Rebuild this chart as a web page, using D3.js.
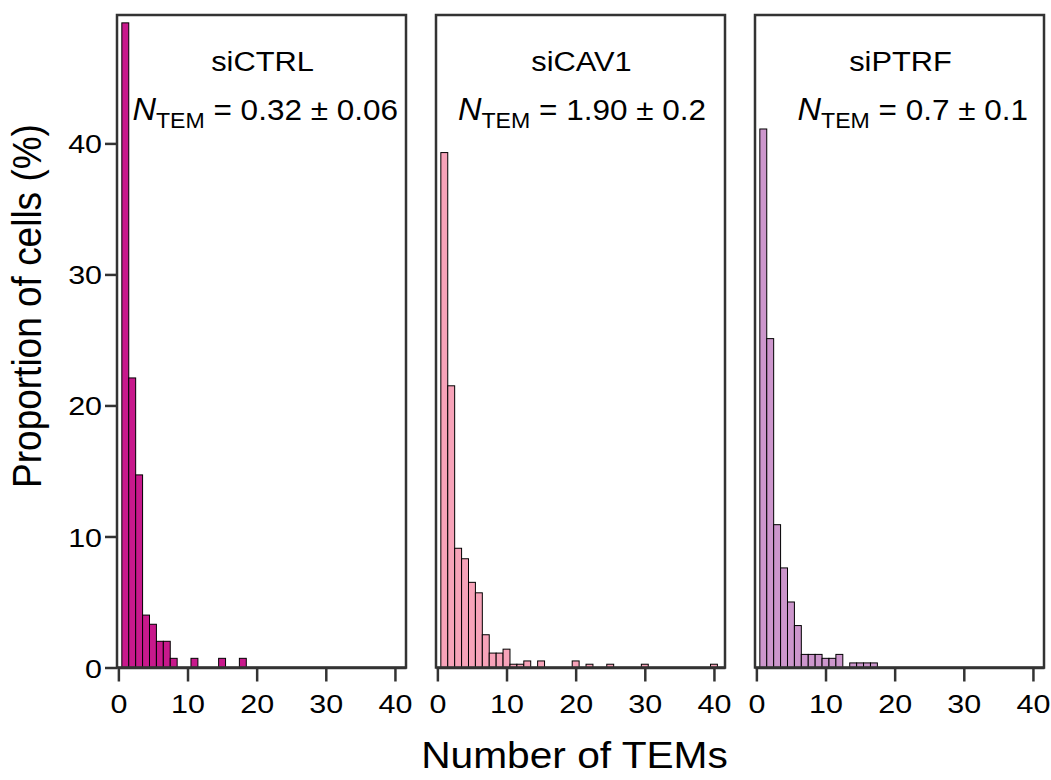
<!DOCTYPE html>
<html lang="en">
<head>
    <meta charset="UTF-8">
    <title>Number of TEMs per cell</title>
    <script src="https://d3js.org/d3.v7.min.js"></script>
    <style>
        body {
            margin: 0;
            background: #fff;
            font-family: Arial, "Liberation Sans", sans-serif;
        }
        svg text {
            fill: #000;
        }
    </style>
</head>
<body>
    <div id="chart"></div>

    <script>
        // data (bin = number of TEMs, value = % of cells)
        const groups = ["siCTRL", "siCAV1", "siPTRF"];
        const nTem = ["0.32 ± 0.06", "1.90 ± 0.2", "0.7 ± 0.1"];
        const colors = ["#C8198C", "#F7A3B9", "#CC96CC"];

        const ctrlBins = [1, 2, 3, 4, 5, 6, 7, 8, 11, 15, 18];
        const ctrlPct  = [49.2, 22.1, 14.7, 4.0, 3.3, 2.0, 2.0, 0.7, 0.7, 0.7, 0.7];

        const cav1Bins = [1, 2, 3, 4, 5, 6, 7, 8, 9, 10, 11, 12, 13, 15, 20, 22, 25, 30, 40];
        const cav1Pct  = [39.3, 21.5, 9.1, 8.3, 6.5, 5.7, 2.5, 1.1, 1.1, 1.4, 0.25, 0.25, 0.5, 0.5, 0.5, 0.25, 0.25, 0.25, 0.25];

        const ptrfBins = [1, 2, 3, 4, 5, 6, 7, 8, 9, 10, 11, 12, 14, 15, 16, 17];
        const ptrfPct  = [41.1, 25.1, 10.9, 7.6, 5.0, 3.2, 1.0, 1.0, 1.0, 0.7, 0.7, 1.0, 0.35, 0.35, 0.35, 0.35];

        const xTicks = [0, 10, 20, 30, 40];
        const yTicks = [0, 10, 20, 30, 40];

        const binData = [ctrlBins, cav1Bins, ptrfBins];
        const pctData = [ctrlPct, cav1Pct, ptrfPct];

        // layout
        const W = 1051, H = 780;
        const plotTop = 15, plotBottom = 667.5;
        const panelW = 289, panelLeft = [117, 436, 755];
        const noteRight = [281, 270, 273]; // right end of N_TEM text inside each panel
        const stretch = 1.1; // text in the figure is a bit wider than Arial

        const svg = d3.select("#chart").append("svg")
            .attr("width", W)
            .attr("height", H);

        const x = d3.scaleLinear().domain([-0.2, 41.6]).range([0, panelW]);
        const y = d3.scaleLinear().domain([0, 49.8]).range([plotBottom, plotTop]);

        groups.forEach((name, i) => {
            const data = binData[i].map((b, k) => ({ bin: b, pct: pctData[i][k] }));
            const g = svg.append("g").attr("transform", `translate(${panelLeft[i]},0)`);

            g.selectAll(".bar")
                .data(data)
                .enter()
                .append("rect")
                .attr("class", "bar")
                .attr("x", d => x(d.bin - 0.5))
                .attr("width", d => x(d.bin + 0.5) - x(d.bin - 0.5))
                .attr("y", d => y(d.pct))
                .attr("height", d => y(0) - y(d.pct))
                .attr("fill", colors[i])
                .attr("stroke", "#000")
                .attr("stroke-width", 1);

            // frame
            g.append("rect")
                .attr("x", 0)
                .attr("y", plotTop)
                .attr("width", panelW)
                .attr("height", plotBottom - plotTop)
                .attr("fill", "none")
                .attr("stroke", "#333")
                .attr("stroke-width", 2.5);

            const xAxis = g.append("g")
                .attr("transform", `translate(0,${plotBottom})`)
                .call(d3.axisBottom(x).tickValues(xTicks).tickSize(14).tickSizeOuter(0));
            xAxis.select(".domain").attr("stroke", "#333").attr("stroke-width", 2.5);
            xAxis.selectAll(".tick line").attr("stroke", "#333").attr("stroke-width", 2.5);
            xAxis.selectAll("text")
                .attr("y", 27)
                .attr("dy", "0.71em")
                .attr("transform", "scale(1.15,1)")
                .style("font-size", "26.5px")
                .style("font-family", "Arial, 'Liberation Sans', sans-serif")
                .attr("fill", "#000");

            if (i === 0) {
                const yAxis = g.append("g")
                    .call(d3.axisLeft(y).tickValues(yTicks).tickSize(12).tickSizeOuter(0));
                yAxis.select(".domain").remove();
                yAxis.selectAll(".tick line").attr("stroke", "#333").attr("stroke-width", 2.5);
                yAxis.selectAll("text")
                    .attr("x", -13)
                    .attr("dy", "0.36em")
                    .attr("transform", "scale(1.15,1)")
                    .style("font-size", "26.5px")
                    .style("font-family", "Arial, 'Liberation Sans', sans-serif")
                    .attr("fill", "#000");
            }

            // group name
            g.append("text")
                .attr("transform", `translate(${panelW / 2 + 1},71) scale(${stretch},1)`)
                .attr("text-anchor", "middle")
                .style("font-size", "28px")
                .text(name);

            // N_TEM = mean ± sem
            const note = g.append("text")
                .attr("transform", `translate(${noteRight[i]},120) scale(1.05,1)`)
                .attr("text-anchor", "end")
                .style("font-size", "30px");
            note.append("tspan").style("font-style", "italic").style("font-size", "31px").text("N");
            note.append("tspan").attr("dy", 8).style("font-size", "22px").text("TEM");
            note.append("tspan").attr("dy", -8).text(" = " + nTem[i]);
        });

        // axis titles
        svg.append("text")
            .attr("transform", `translate(${panelLeft[1] + panelW / 2 - 6},768) scale(${stretch},1)`)
            .attr("text-anchor", "middle")
            .style("font-size", "37px")
            .text("Number of TEMs");

        svg.append("text")
            .attr("transform", `translate(41,306) scale(${stretch},1) rotate(-90)`)
            .attr("text-anchor", "middle")
            .style("font-size", "37px")
            .text("Proportion of cells (%)");
    </script>
</body>
</html>
